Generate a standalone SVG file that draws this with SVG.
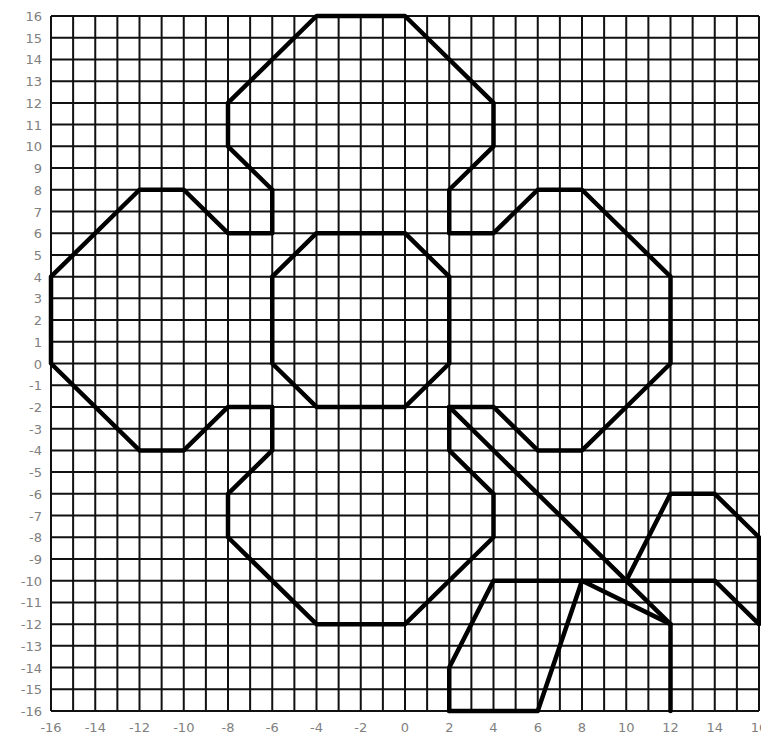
<svg xmlns="http://www.w3.org/2000/svg" width="761" height="735" viewBox="0 0 761 735">
<style>
.grid{fill:none;stroke:#111;stroke-width:2;vector-effect:non-scaling-stroke}
.shape{fill:none;stroke:#000;stroke-width:4.5;stroke-linejoin:round;stroke-linecap:round;vector-effect:non-scaling-stroke}
.lbl{font-family:"DejaVu Sans","Liberation Sans",sans-serif;font-size:13px;fill:#808080}
.yl{text-anchor:end}
.xl{text-anchor:middle}
</style>
<rect width="761" height="735" fill="#fff"/>
<g id="plot" transform="translate(405,363.5) scale(22.125,-21.71875)">
<path id="grid" class="grid" d="M-16,-16V16M-15,-16V16M-14,-16V16M-13,-16V16M-12,-16V16M-11,-16V16M-10,-16V16M-9,-16V16M-8,-16V16M-7,-16V16M-6,-16V16M-5,-16V16M-4,-16V16M-3,-16V16M-2,-16V16M-1,-16V16M0,-16V16M1,-16V16M2,-16V16M3,-16V16M4,-16V16M5,-16V16M6,-16V16M7,-16V16M8,-16V16M9,-16V16M10,-16V16M11,-16V16M12,-16V16M13,-16V16M14,-16V16M15,-16V16M16,-16V16M-16,-16H16M-16,-15H16M-16,-14H16M-16,-13H16M-16,-12H16M-16,-11H16M-16,-10H16M-16,-9H16M-16,-8H16M-16,-7H16M-16,-6H16M-16,-5H16M-16,-4H16M-16,-3H16M-16,-2H16M-16,-1H16M-16,0H16M-16,1H16M-16,2H16M-16,3H16M-16,4H16M-16,5H16M-16,6H16M-16,7H16M-16,8H16M-16,9H16M-16,10H16M-16,11H16M-16,12H16M-16,13H16M-16,14H16M-16,15H16M-16,16H16"/>
<g id="shapes">
<path id="outline" class="shape" d="M-6,6L-6,8L-8,10L-8,12L-4,16L0,16L4,12L4,10L2,8L2,6L4,6L6,8L8,8L12,4L12,0L8,-4L6,-4L4,-2L2,-2L2,-4L4,-6L4,-8L0,-12L-4,-12L-8,-8L-8,-6L-6,-4L-6,-2L-8,-2L-10,-4L-12,-4L-16,0L-16,4L-12,8L-10,8L-8,6Z"/>
<path id="center" class="shape" d="M-4,6L0,6L2,4L2,0L0,-2L-4,-2L-6,0L-6,4Z"/>
<path id="diagonal" class="shape" d="M2,-2L12,-12L12,-16"/>
<path id="lower" class="shape" d="M2,-16L2,-14L4,-10L14,-10L16,-12L16,-8L14,-6L12,-6L10,-10"/>
<path id="lower2" class="shape" d="M12,-12L8,-10L6,-16L2,-16"/>
</g>
</g>
<g id="ylabels" class="lbl yl">
<text x="42" y="21">16</text>
<text x="42" y="42.7">15</text>
<text x="42" y="64.4">14</text>
<text x="42" y="86.2">13</text>
<text x="42" y="107.9">12</text>
<text x="42" y="129.6">11</text>
<text x="42" y="151.3">10</text>
<text x="42" y="173">9</text>
<text x="42" y="194.8">8</text>
<text x="42" y="216.5">7</text>
<text x="42" y="238.2">6</text>
<text x="42" y="259.9">5</text>
<text x="42" y="281.6">4</text>
<text x="42" y="303.3">3</text>
<text x="42" y="325.1">2</text>
<text x="42" y="346.8">1</text>
<text x="42" y="368.5">0</text>
<text x="42" y="390.2">-1</text>
<text x="42" y="411.9">-2</text>
<text x="42" y="433.7">-3</text>
<text x="42" y="455.4">-4</text>
<text x="42" y="477.1">-5</text>
<text x="42" y="498.8">-6</text>
<text x="42" y="520.5">-7</text>
<text x="42" y="542.3">-8</text>
<text x="42" y="564">-9</text>
<text x="42" y="585.7">-10</text>
<text x="42" y="607.4">-11</text>
<text x="42" y="629.1">-12</text>
<text x="42" y="650.8">-13</text>
<text x="42" y="672.6">-14</text>
<text x="42" y="694.3">-15</text>
<text x="42" y="716">-16</text>
</g>
<g id="xlabels" class="lbl xl">
<text x="51" y="732">-16</text>
<text x="95.3" y="732">-14</text>
<text x="139.5" y="732">-12</text>
<text x="183.8" y="732">-10</text>
<text x="228" y="732">-8</text>
<text x="272.3" y="732">-6</text>
<text x="316.5" y="732">-4</text>
<text x="360.8" y="732">-2</text>
<text x="405" y="732">0</text>
<text x="449.3" y="732">2</text>
<text x="493.5" y="732">4</text>
<text x="537.8" y="732">6</text>
<text x="582" y="732">8</text>
<text x="626.3" y="732">10</text>
<text x="670.5" y="732">12</text>
<text x="714.8" y="732">14</text>
<text x="759" y="732">16</text>
</g>
</svg>
